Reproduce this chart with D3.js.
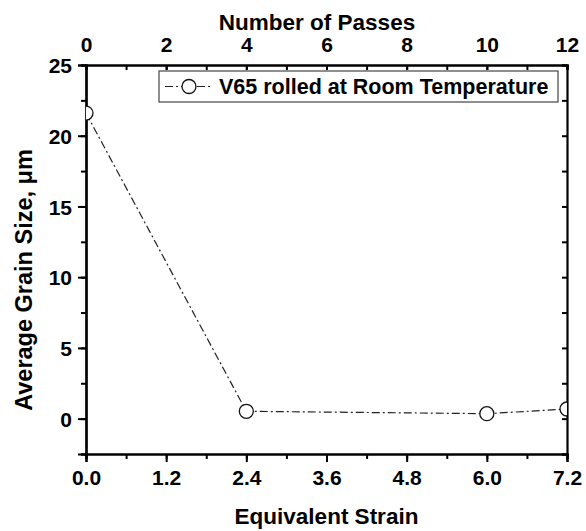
<!DOCTYPE html>
<html>
<head>
<meta charset="utf-8">
<script src="https://cdn.jsdelivr.net/npm/d3@7"></script>
<style>
  body { margin: 0; background: #fff; }
  text { font-family: "Liberation Sans", Arial, sans-serif; font-weight: bold; }
</style>
</head>
<body>
<div id="chart"></div>
<script>
// Data
const strain = [0.0, 2.4, 6.0, 7.2];
const grainSize = [21.6, 0.52, 0.35, 0.68];
const seriesName = "V65 rolled at Room Temperature";
const strainTicks = [0.0, 1.2, 2.4, 3.6, 4.8, 6.0, 7.2];
const passTicks = [0, 2, 4, 6, 8, 10, 12];
const sizeTicks = [0, 5, 10, 15, 20, 25];

const width = 586, height = 531;
const margin = { top: 65, right: 19, bottom: 77, left: 86 };
const innerW = width - margin.left - margin.right;
const innerH = height - margin.top - margin.bottom;

const svg = d3.select("#chart").append("svg")
    .attr("width", width)
    .attr("height", height);

const x = d3.scaleLinear().domain([0, 7.2]).range([margin.left, width - margin.right]);
const xTop = d3.scaleLinear().domain([0, 12]).range([margin.left, width - margin.right]);
const y = d3.scaleLinear().domain([-2.5, 25]).range([height - margin.bottom, margin.top]);

// clip so edge markers are cut in half like the original
svg.append("clipPath").attr("id", "plotclip")
  .append("rect")
    .attr("x", margin.left).attr("y", margin.top)
    .attr("width", innerW).attr("height", innerH);

// minor ticks
function minorTicks(scale, step) {
    const [a, b] = scale.domain();
    const out = [];
    for (let v = a; v <= b + 1e-9; v += step) out.push(+v.toFixed(4));
    return out;
}

// bottom axis
const gBottom = svg.append("g").attr("transform", `translate(0,${height - margin.bottom})`);
gBottom.call(d3.axisBottom(x).tickValues(minorTicks(x, 0.6)).tickSize(5).tickFormat(""));
const gBottomMaj = gBottom.append("g").call(d3.axisBottom(x).tickValues(strainTicks).tickSize(8).tickFormat(d3.format(".1f")));
gBottomMaj.selectAll(".tick text").attr("y", 31).attr("dy", 0);

// top axis (ticks inward)
const gTop = svg.append("g").attr("transform", `translate(0,${margin.top})`);
gTop.call(d3.axisTop(xTop).tickValues(minorTicks(xTop, 1)).tickSize(-5).tickFormat(""));
const gTopMaj = gTop.append("g").call(d3.axisTop(xTop).tickValues(passTicks).tickSize(-5).tickFormat(d3.format("d")));
gTopMaj.selectAll(".tick text").attr("y", -13).attr("dy", 0);

// left axis
const gLeft = svg.append("g").attr("transform", `translate(${margin.left},0)`);
gLeft.call(d3.axisLeft(y).tickValues(minorTicks(y, 2.5)).tickSize(5).tickFormat(""));
const gLeftMaj = gLeft.append("g").call(d3.axisLeft(y).tickValues(sizeTicks).tickSize(8).tickFormat(d3.format("d")));
gLeftMaj.selectAll(".tick text").attr("x", -14).attr("dy", "0.36em");

// right axis (ticks inward, no labels)
const gRight = svg.append("g").attr("transform", `translate(${width - margin.right},0)`);
gRight.call(d3.axisRight(y).tickValues(minorTicks(y, 2.5)).tickSize(-5).tickFormat(""));

svg.selectAll(".domain").attr("stroke", "#000").attr("stroke-width", 2.2);
svg.selectAll(".tick line").attr("stroke", "#000").attr("stroke-width", 2);
svg.selectAll(".tick text").attr("fill", "#000").attr("font-size", "21px")
    .attr("font-family", "'Liberation Sans', Arial, sans-serif").attr("font-weight", "bold");

// axis titles
svg.append("text")
    .attr("x", (margin.left + width - margin.right) / 2)
    .attr("y", 524)
    .attr("text-anchor", "middle")
    .attr("font-size", "22.5px")
    .text("Equivalent Strain");

svg.append("text")
    .attr("x", 317)
    .attr("y", 30)
    .attr("text-anchor", "middle")
    .attr("font-size", "22.5px")
    .text("Number of Passes");

svg.append("text")
    .attr("transform", "translate(32,280) rotate(-90)")
    .attr("text-anchor", "middle")
    .attr("font-size", "23.5px")
    .text("Average Grain Size, μm");

// series
const pts = strain.map((s, i) => ({ s, v: grainSize[i] }));
const plot = svg.append("g").attr("clip-path", "url(#plotclip)");

plot.append("path")
    .datum(pts)
    .attr("d", d3.line().x(d => x(d.s)).y(d => y(d.v)))
    .attr("fill", "none")
    .attr("stroke", "#222")
    .attr("stroke-width", 1.2)
    .attr("stroke-dasharray", "8,3,2,3");

plot.selectAll("circle.pt")
    .data(pts)
    .join("circle")
    .attr("class", "pt")
    .attr("cx", d => x(d.s))
    .attr("cy", d => y(d.v))
    .attr("r", 7)
    .attr("fill", "#fff")
    .attr("stroke", "#111")
    .attr("stroke-width", 1.3);

// legend
const lg = svg.append("g");
lg.append("rect")
    .attr("x", 159).attr("y", 71)
    .attr("width", 399).attr("height", 31)
    .attr("fill", "#fff")
    .attr("stroke", "#444")
    .attr("stroke-width", 1.2);
lg.append("line")
    .attr("x1", 165).attr("x2", 213)
    .attr("y1", 86.5).attr("y2", 86.5)
    .attr("stroke", "#222")
    .attr("stroke-width", 1.2)
    .attr("stroke-dasharray", "8,3,2,3");
lg.append("circle")
    .attr("cx", 189).attr("cy", 86.5).attr("r", 7)
    .attr("fill", "#fff").attr("stroke", "#111").attr("stroke-width", 1.3);
lg.append("text")
    .attr("x", 219).attr("y", 94)
    .attr("font-size", "21.5px")
    .text(seriesName);
</script>
</body>
</html>
